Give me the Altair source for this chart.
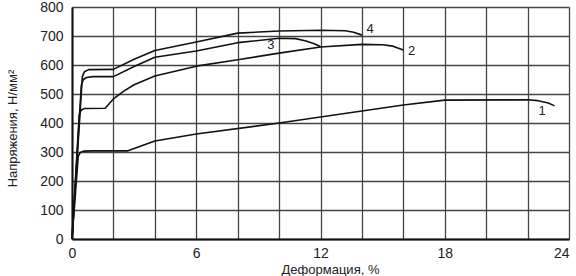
import altair as alt
import pandas as pd

# Curve 1
x1 = [0, 0.3, 0.4, 0.55, 1.0, 2.7, 4, 6, 10, 16, 18, 22, 22.5, 23.0, 23.3]
y1 = [0, 285, 298, 303, 304, 304, 338, 362, 400, 462, 479, 480, 477, 469, 459]
# Curve 2
x2 = [0, 0.35, 0.45, 0.6, 1.6, 2, 2.5, 3, 4, 6, 8, 10, 12, 14, 15, 15.5, 16]
y2 = [0, 430, 445, 450, 451, 483, 510, 532, 562, 596, 618, 641, 662, 671, 670, 665, 652]
# Curve 3
x3 = [0, 0.45, 0.55, 0.7, 1, 2, 3, 4, 6, 8, 10, 10.8, 11.3, 11.7, 12]
y3 = [0, 530, 550, 557, 560, 560, 595, 627, 648, 677, 692, 691, 683, 673, 663]
# Curve 4
x4 = [0, 0.5, 0.6, 0.8, 2, 3, 4, 6, 8, 10, 12, 13.2, 13.6, 14]
y4 = [0, 560, 577, 584, 585, 620, 650, 679, 710, 717, 720, 718, 713, 703]

# Curve labels
label_text = ["1", "2", "3", "4"]
label_x = [22.7, 16.4, 9.6, 14.4]
label_y = [440, 650, 668, 725]

x_ticks = list(range(0, 25, 2))
y_ticks = list(range(0, 801, 100))

rows = []
for name, xs, ys in [("1", x1, y1), ("2", x2, y2), ("3", x3, y3), ("4", x4, y4)]:
    for i, (a, b) in enumerate(zip(xs, ys)):
        rows.append({"curve": name, "order": i, "x": a, "y": b})
df = pd.DataFrame(rows)
labels = pd.DataFrame({"t": label_text, "x": label_x, "y": label_y})

FONT = "Liberation Sans"

xscale = alt.Scale(domain=[0, 24], nice=False, zero=False)
yscale = alt.Scale(domain=[0, 800], nice=False)

x_axis = alt.Axis(
    values=x_ticks,
    labelExpr="datum.value % 6 == 0 ? datum.label : ''",
    labelAlign={"condition": {"test": "datum.value == 24", "value": "right"}, "value": "center"},
    labelOverlap=False,
    title="Деформация, %",
    titleX=258, titleY=30, titleBaseline="middle", titleAlign="center",
    labelPadding=7,
)
y_axis = alt.Axis(
    values=y_ticks,
    labelOverlap=False,
    title="Напряжения, Н/мм²",
    titleX=-60, titleY=121, titleAngle=-90, titleBaseline="middle", titleAlign="center",
    labelPadding=9,
)

lines = alt.Chart(df).mark_line(color="#111111", strokeWidth=1.6, interpolate="linear",
                                strokeJoin="round").encode(
    x=alt.X("x:Q", scale=xscale, axis=x_axis),
    y=alt.Y("y:Q", scale=yscale, axis=y_axis),
    detail="curve:N",
    order="order:Q",
)

text = alt.Chart(labels).mark_text(font=FONT, fontSize=13, color="#222222").encode(
    x=alt.X("x:Q", scale=xscale, axis=x_axis),
    y=alt.Y("y:Q", scale=yscale, axis=y_axis),
    text="t:N",
)

chart = (lines + text).properties(
    width=497, height=232,
    autosize=alt.AutoSizeParams(type="none"),
    padding={"left": 72, "top": 7, "right": 7, "bottom": 37},
    background="white",
).configure_view(stroke=None).configure_axis(
    grid=True, gridColor="#444444", gridWidth=1.3, gridOpacity=1,
    domainColor="#111111", domainWidth=2,
    ticks=False,
    labelFont=FONT, labelFontSize=14, labelColor="#222222",
    titleFont=FONT, titleFontSize=13, titleColor="#222222", titleFontWeight="normal",
)

chart.save("out.html", embed_options={"renderer": "svg", "actions": False})
